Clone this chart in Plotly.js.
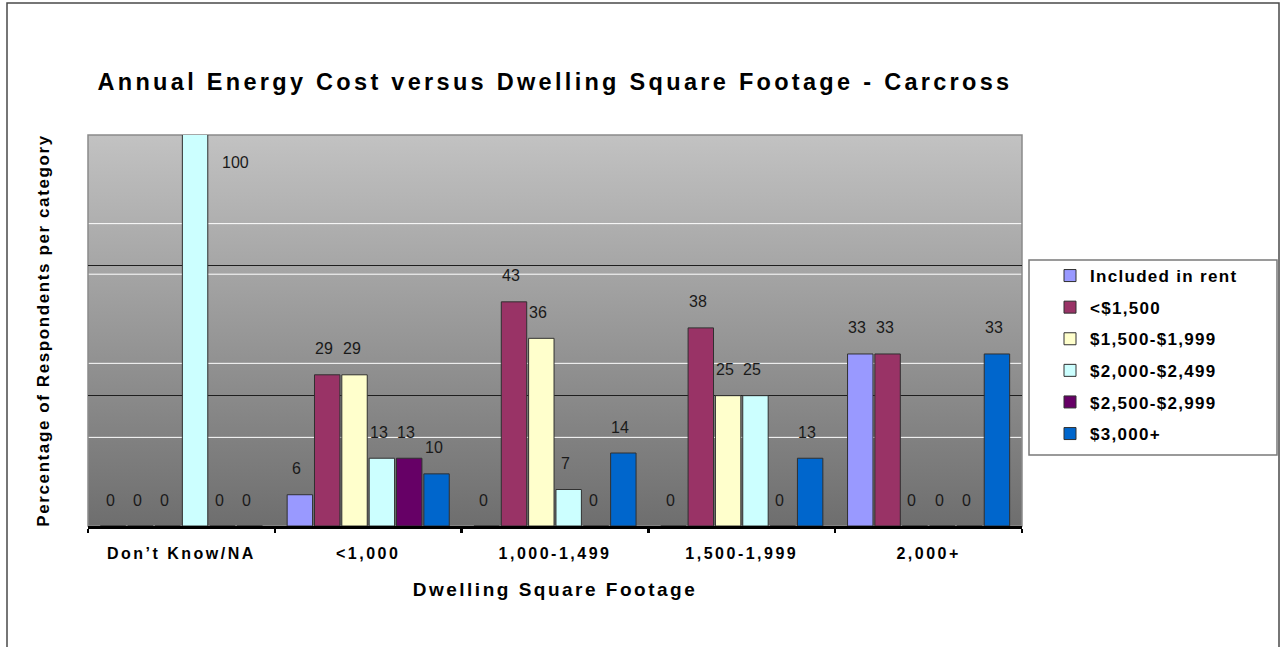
<!DOCTYPE html>
<html>
<head>
<meta charset="utf-8">
<script src="https://cdn.plot.ly/plotly-3.0.1.min.js"></script>
<style>
  html, body { margin: 0; padding: 0; background: #ffffff; }
  #chart { width: 1280px; height: 647px; }
  #chart .gtitle { letter-spacing: 3.3px; }
  #chart .xtick text { letter-spacing: 2.5px; }
  #chart .xtitle { letter-spacing: 2.5px; }
  #chart .ytitle { letter-spacing: 1.6px; }
  #chart .legendtext { letter-spacing: 1.3px; }
  #chart .legend .scrollbox { clip-path: none !important; }
</style>
</head>
<body>
<div id="chart"></div>
<script>
// Dwelling size categories (x axis)
const categories = ["Don\u2019t Know/NA", "<1,000", "1,000-1,499", "1,500-1,999", "2,000+"];

// Annual energy cost bands (legend entries)
const seriesNames = ["Included in rent", "<$1,500", "$1,500-$1,999", "$2,000-$2,499", "$2,500-$2,999", "$3,000+"];

// Percentage of respondents per dwelling category, one array per cost band
const includedInRent = [0, 6, 0, 0, 33];
const under1500      = [0, 29, 43, 38, 33];
const from1500to1999 = [0, 29, 36, 25, 0];
const from2000to2499 = [100, 13, 7, 25, 0];
const from2500to2999 = [0, 13, 0, 0, 0];
const over3000       = [0, 10, 14, 13, 33];

const seriesValues = [includedInRent, under1500, from1500to1999, from2000to2499, from2500to2999, over3000];
const seriesColors = ["#9999FF", "#993366", "#FFFFCC", "#CCFFFF", "#660066", "#0066CC"];

const Y_MAX = 75;
const BAR_GAP = 0.122;
const FONT = "'Liberation Sans', Arial, sans-serif";

const traces = seriesValues.map((vals, i) => ({
  type: "bar",
  name: seriesNames[i],
  x: categories,
  y: vals,
  legendgroup: "g" + i,
  marker: { color: seriesColors[i], line: { color: "#303030", width: 1 } },
  hoverinfo: "x+y+name"
}));

// Value labels above each bar; a bar running past the top of the axis
// gets its label beside it, just under the top edge.
const slot = (1 - BAR_GAP) / seriesValues.length;
const annotations = [];
seriesValues.forEach((vals, i) => {
  vals.forEach((v, c) => {
    const clipped = v > Y_MAX;
    annotations.push({
      x: c + (i - (seriesValues.length - 1) / 2) * slot,
      y: clipped ? Y_MAX : v,
      xref: "x", yref: "y",
      text: String(v),
      showarrow: false,
      xanchor: "center", yanchor: "middle",
      xshift: clipped ? 40 : -3,
      yshift: clipped ? -27 : 26,
      font: { family: FONT, size: 16, color: "#1a1a1a" }
    });
  });
});

// Soft vertical shading of the plotting area
const gradientSvg =
  "<svg xmlns='http://www.w3.org/2000/svg' width='10' height='100' preserveAspectRatio='none'>" +
  "<defs><linearGradient id='g' x1='0' y1='0' x2='0' y2='1'>" +
  "<stop offset='0' stop-color='#c2c2c2'/><stop offset='1' stop-color='#6e6e6e'/>" +
  "</linearGradient></defs><rect width='10' height='100' fill='url(#g)'/></svg>";
const gradientUri = "data:image/svg+xml;charset=utf-8," + encodeURIComponent(gradientSvg);

// Light banding lines in the shaded area
const bandLevels = [58, 48.3, 31.2, 17];
const shapes = bandLevels.map(yv => ({
  type: "line", xref: "paper", yref: "y", x0: 0, x1: 1, y0: yv, y1: yv,
  line: { color: "#ffffff", width: 1 }, layer: "below"
}));
// plot area outline
shapes.push({
  type: "rect", xref: "paper", yref: "paper", x0: 0, x1: 1, y0: 0, y1: 1,
  line: { color: "#8a8a8a", width: 1.5 }, layer: "below"
});
// legend box
shapes.push({
  type: "rect", xref: "paper", yref: "paper",
  x0: (1029 - 88) / 934, x1: (1277 - 88) / 934,
  y0: (526 - 455) / 391, y1: (526 - 260) / 391,
  line: { color: "#7a7a7a", width: 1.5 }, fillcolor: "#ffffff", layer: "below"
});
// outer frame
shapes.push({
  type: "rect", xref: "paper", yref: "paper",
  x0: (7 - 88) / 934, x1: (1279 - 88) / 934,
  y0: (526 - 700) / 391, y1: (526 - 3) / 391,
  line: { color: "#4a4a4a", width: 1.5 }, layer: "below"
});

const layout = {
  width: 1280, height: 647,
  margin: { l: 88, r: 258, t: 135, b: 121, pad: 0 },
  paper_bgcolor: "#ffffff",
  plot_bgcolor: "rgba(0,0,0,0)",
  font: { family: FONT, color: "#000000" },
  title: {
    text: "<b>Annual Energy Cost versus Dwelling Square Footage - Carcross</b>",
    font: { family: FONT, size: 23.5, color: "#000000" },
    x: 0.5, xref: "paper", xanchor: "center",
    y: 1 - 82 / 647, yref: "container", yanchor: "middle"
  },
  barmode: "group",
  bargap: BAR_GAP,
  bargroupgap: 0.07,
  xaxis: {
    type: "category",
    showline: true, linecolor: "#000000", linewidth: 2.5,
    ticks: "outside", tickson: "boundaries", ticklen: 4, tickwidth: 2.5, tickcolor: "#000000",
    showgrid: false, zeroline: false,
    ticklabelstandoff: 11,
    tickfont: { family: FONT, size: 16, color: "#000000", weight: "bold" },
    title: {
      text: "<b>Dwelling Square Footage</b>",
      font: { family: FONT, size: 19, color: "#000000" },
      standoff: 22
    }
  },
  yaxis: {
    range: [0, Y_MAX],
    dtick: 25,
    showgrid: true, gridcolor: "#1e1e1e", gridwidth: 1,
    zeroline: false,
    showticklabels: false,
    ticks: "",
    showline: false,
    title: {
      text: "<b>Percentage of Respondents per category</b>",
      font: { family: FONT, size: 17, color: "#000000" },
      standoff: 33
    }
  },
  legend: {
    x: (1050 - 88) / 934, xanchor: "left",
    y: (526 - 258) / 391, yanchor: "top",
    bgcolor: "rgba(0,0,0,0)",
    borderwidth: 0,
    traceorder: "grouped",
    tracegroupgap: 6.5,
    font: { family: FONT, size: 17, color: "#000000", weight: "bold" }
  },
  images: [{
    source: gradientUri, xref: "paper", yref: "paper",
    x: 0, y: 1, sizex: 1, sizey: 1, sizing: "stretch",
    xanchor: "left", yanchor: "top", layer: "below"
  }],
  shapes: shapes,
  annotations: annotations,
  showlegend: true
};

Plotly.newPlot("chart", traces, layout, { displayModeBar: false, staticPlot: true });
</script>
</body>
</html>
